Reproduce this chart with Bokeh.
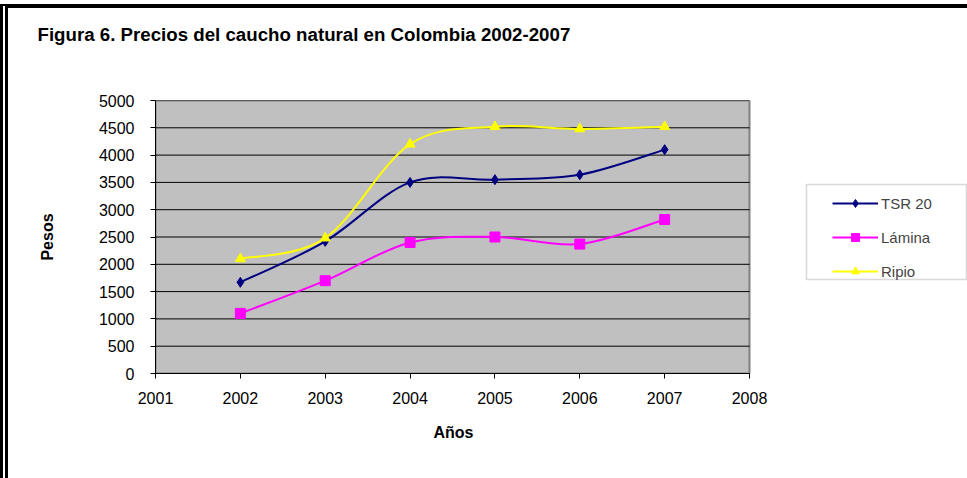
from bokeh.plotting import figure
from bokeh.layouts import column
from bokeh.models import (Range1d, FixedTicker, Legend, LegendItem, Title,
                          BoxAnnotation)
from bokeh.embed import file_html
from bokeh.resources import INLINE

# Rubber prices in Colombia (pesos), 2002-2007
years = [2002, 2003, 2004, 2005, 2006, 2007]
tsr20 = [1670, 2420, 3500, 3550, 3640, 4100]
lamina = [1100, 1700, 2400, 2500, 2370, 2820]
ripio = [2100, 2480, 4200, 4520, 4480, 4520]

x_ticks = [2001, 2002, 2003, 2004, 2005, 2006, 2007, 2008]
y_ticks = [0, 500, 1000, 1500, 2000, 2500, 3000, 3500, 4000, 4500, 5000]

FONT = "Liberation Sans"

# the page rule takes 8px on the left and 8px on top
W, H = 959, 470
PL, PR, PT, PB = 147, 741, 91, 365   # plot-area edges on the canvas
X0, X1 = x_ticks[0], x_ticks[-1]
Y0, Y1 = y_ticks[0], y_ticks[-1]
# the drawing frame runs on to the right edge so the legend can sit beside the plot area
x_end = X0 + (X1 - X0) * (W - PL) / (PR - PL)

p = figure(width=W, height=H, output_backend="svg", toolbar_location=None,
           title_location=None,
           x_range=Range1d(X0, x_end), y_range=Range1d(Y0, Y1),
           min_border_left=PL, min_border_right=0,
           min_border_top=PT, min_border_bottom=H - PB)

p.background_fill_color = "white"
p.border_fill_color = "white"
p.outline_line_color = None
p.xgrid.visible = False
p.ygrid.visible = False

# blank strip between the heading and the plot area
p.add_layout(Title(text=" ", text_font_size="2px", standoff=39), "above")
p.add_layout(Title(text="Figura 6. Precios del caucho natural en Colombia 2002-2007",
                   text_font=FONT, text_font_size="18.7px", text_font_style="bold",
                   text_color="black", align="left", offset=-(PL - 29),
                   standoff=26), "above")

# grey plot area with black value rules
p.quad(left=X0, right=X1, bottom=Y0, top=Y1, fill_color="#C0C0C0",
       line_color="#808080", line_width=2)
p.segment(x0=[X0] * len(y_ticks), x1=[X1] * len(y_ticks), y0=y_ticks, y1=y_ticks,
          line_color="black", line_width=1)

for ax in (p.xaxis[0], p.yaxis[0]):
    ax.axis_line_color = "black"
    ax.major_tick_line_color = "black"
    ax.minor_tick_line_color = None
    ax.major_tick_in = 0
    ax.major_tick_out = 5
    ax.major_label_text_font = FONT
    ax.major_label_text_font_size = "16px"
    ax.major_label_text_color = "black"
    ax.axis_label_text_font = FONT
    ax.axis_label_text_font_size = "16px"
    ax.axis_label_text_font_style = "bold"
    ax.axis_label_text_color = "black"

p.xaxis.bounds = (X0, X1)
p.xaxis.ticker = FixedTicker(ticks=x_ticks)
p.yaxis.ticker = FixedTicker(ticks=y_ticks)
p.xaxis.major_label_standoff = 13
p.yaxis.major_label_standoff = 16
p.yaxis.axis_label = "Pesos"
p.yaxis.axis_label_standoff = 40

# x-axis caption, centred under the plot area rather than the whole frame
p.add_layout(Title(text="Años", text_font=FONT, text_font_size="16px",
                   text_font_style="bold", text_color="black", align="left",
                   offset=(PR - PL) / 2 - 19, standoff=30), "below")


def smooth_segments(xs, ys):
    """Cubic Bezier segments through the points (Catmull-Rom style tangents)."""
    n = len(xs)
    seg = dict(x0=[], y0=[], x1=[], y1=[], cx0=[], cy0=[], cx1=[], cy1=[])
    for i in range(n - 1):
        xa, ya = xs[max(i - 1, 0)], ys[max(i - 1, 0)]
        xb, yb = xs[i], ys[i]
        xc, yc = xs[i + 1], ys[i + 1]
        xd, yd = xs[min(i + 2, n - 1)], ys[min(i + 2, n - 1)]
        seg["x0"].append(xb); seg["y0"].append(yb)
        seg["x1"].append(xc); seg["y1"].append(yc)
        seg["cx0"].append(xb + (xc - xa) / 6); seg["cy0"].append(yb + (yc - ya) / 6)
        seg["cx1"].append(xc - (xd - xb) / 6); seg["cy1"].append(yc - (yd - yb) / 6)
    return seg


series = [
    ("TSR 20", tsr20, "#000080", "diamond", 10),
    ("Lámina", lamina, "#FF00FF", "square", 10),
    ("Ripio", ripio, "#FFFF00", "triangle", 10),
]

# legend frame, drawn under the legend entries (screen px from the frame's lower left)
p.add_layout(BoxAnnotation(left=651, right=811, bottom=94, top=189,
                           left_units="screen", right_units="screen",
                           top_units="screen", bottom_units="screen",
                           fill_color="white", fill_alpha=1,
                           line_color="#808080", line_width=1.5))

items = []
for name, vals, color, marker, size in series:
    b = p.bezier(line_color=color, line_width=2, **smooth_segments(years, vals))
    s = p.scatter(years, vals, marker=marker, size=size, fill_color=color,
                  line_color=color)
    items.append(LegendItem(label=name, renderers=[b, s]))

legend = Legend(items=items, location=(677, 92), orientation="vertical",
                glyph_width=46, glyph_height=20, label_height=20, spacing=14,
                padding=0, margin=0, label_standoff=3,
                label_text_font=FONT, label_text_font_size="15px",
                border_line_alpha=0, background_fill_alpha=0)
p.add_layout(legend)

page = column(p, styles={"border-top": "4px solid black",
                         "border-left": "8px double black",
                         "margin-top": "4px"})

open("out.html", "w").write(file_html(page, INLINE))
